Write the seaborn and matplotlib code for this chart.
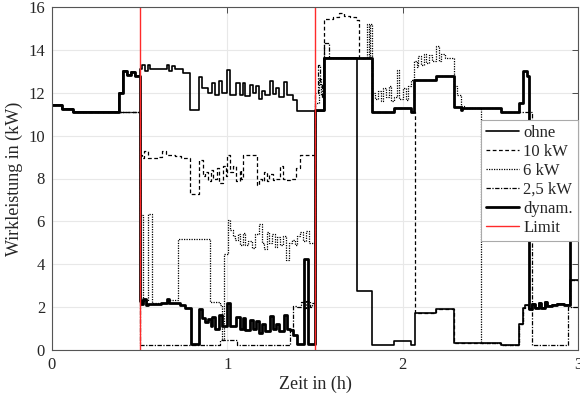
import matplotlib
matplotlib.use("Agg")
import matplotlib.pyplot as plt
import seaborn as sns
import pandas as pd

# ---------------- data (time in h, power in kW, step-post) ----------------
ohne_t = [0, 0.057, 0.12, 0.382, 0.405, 0.43, 0.45, 0.475,
          0.50, 0.515, 0.53, 0.545, 0.56, 0.655, 0.67, 0.685, 0.70, 0.745,
          0.787, 0.84, 0.854, 0.892, 0.915, 0.93, 0.952, 0.968, 1.0, 1.015,
          1.052, 1.072, 1.087, 1.10, 1.128, 1.146, 1.165, 1.178, 1.20, 1.215,
          1.243, 1.258, 1.28, 1.295, 1.324, 1.338, 1.377, 1.396,
          1.553, 1.738, 1.824, 1.95, 2.05, 2.07, 2.19, 2.29, 2.56, 2.665,
          2.685, 2.70, 2.72, 2.74, 2.755, 2.775, 2.79, 2.81, 2.825, 2.85,
          2.88, 2.92, 2.955, 3.0]
ohne_p = [11.45, 11.25, 11.1, 12.0, 13.0, 12.85, 12.95, 12.8,
          13.1, 13.3, 13.0, 13.3, 13.1, 13.3, 13.0, 13.25, 13.1, 12.9,
          11.2, 12.75, 12.2, 12.0, 12.45, 11.9, 12.55, 12.0, 13.05, 11.9,
          12.45, 11.9, 12.45, 11.85, 12.35, 12.0, 12.3, 11.7, 12.1, 11.9,
          12.55, 11.95, 12.2, 11.8, 12.5, 11.9, 11.65, 11.15,
          13.6, 2.75, 0.22, 0.43, 0.22, 1.74, 1.9, 0.33, 0.22, 1.2,
          1.95, 2.1, 1.9, 2.15, 1.95, 2.2, 1.95, 2.25, 2.05, 2.1,
          2.15, 2.1, 3.25, 3.25]

k10_t = [0, 0.057, 0.12,
         0.50, 0.515, 0.525, 0.545, 0.61, 0.63, 0.65, 0.70, 0.735, 0.787,
         0.84, 0.86, 0.875, 0.89, 0.905, 0.92, 0.94, 0.955, 0.975, 0.99,
         1.0, 1.015, 1.035, 1.05, 1.07, 1.08, 1.091, 1.167, 1.18, 1.195,
         1.21, 1.225, 1.24, 1.26, 1.28, 1.30, 1.315, 1.335, 1.36, 1.39, 1.415,
         1.5, 1.553, 1.60, 1.635, 1.664, 1.70, 1.735, 1.75, 1.825, 1.95,
         2.05, 2.07, 2.19, 2.29, 2.56, 2.665, 2.685, 2.70, 2.72, 2.74,
         2.755, 2.775, 2.79, 2.81, 2.825, 2.85, 2.88, 2.92, 2.955, 3.0]
k10_p = [11.45, 11.25, 11.1,
         9.1, 8.95, 9.3, 8.95, 9.0, 9.3, 9.1, 9.05, 8.95, 7.3,
         8.85, 8.1, 8.3, 7.9, 8.4, 8.0, 8.5, 7.8, 8.6, 8.1,
         9.1, 8.3, 8.6, 7.9, 8.4, 8.0, 9.1, 7.7, 8.0, 7.9,
         8.3, 7.9, 8.2, 7.95, 8.0, 8.6, 8.0, 7.95, 8.0, 8.5, 9.1,
         11.2, 15.45, 15.55, 15.7, 15.6, 15.55, 15.4, 13.6, 11.1, 11.3,
         11.1, 1.74, 1.9, 0.33, 0.22, 1.2, 1.95, 2.1, 1.9, 2.15,
         1.95, 2.2, 1.95, 2.25, 2.05, 2.1, 2.15, 2.1, 3.25, 3.25]

k6_t = [0, 0.057, 0.12,
        0.50, 0.52, 0.548, 0.568, 0.66, 0.72, 0.90, 0.957, 0.97, 0.982,
        1.005, 1.015, 1.03, 1.045, 1.06, 1.075, 1.09, 1.10, 1.12, 1.14,
        1.16, 1.18, 1.195, 1.21, 1.225, 1.24, 1.255, 1.27, 1.285, 1.30,
        1.32, 1.335, 1.35, 1.37, 1.385, 1.40, 1.415, 1.43, 1.45, 1.465,
        1.5, 1.52, 1.535, 1.553, 1.797, 1.81, 1.815, 1.825, 1.84, 1.86,
        1.875, 1.89, 1.905, 1.92, 1.935, 1.95, 1.965, 1.98, 2.0, 2.02,
        2.03, 2.045, 2.063, 2.08, 2.09, 2.105, 2.12, 2.135, 2.15, 2.165,
        2.19, 2.205, 2.22, 2.24, 2.29, 2.31, 2.33, 2.35, 2.445, 2.56,
        2.665, 2.685, 2.70, 2.72, 2.74, 2.755, 2.775, 2.79, 2.81, 2.825,
        2.85, 2.88, 2.92, 2.955, 3.0]
k6_p = [11.45, 11.25, 11.1,
        6.3, 2.3, 6.35, 2.2, 2.35, 5.2, 2.25, 2.1, 0.45, 4.5,
        6.05, 5.6, 5.3, 5.15, 5.4, 4.9, 5.45, 4.9, 5.1, 4.75,
        5.4, 5.9, 5.0, 4.7, 5.5, 5.0, 5.4, 4.8, 5.25, 4.9,
        5.3, 4.2, 5.0, 5.15, 4.9, 5.3, 5.5, 5.1, 5.55, 5.0,
        11.5, 12.7, 11.9, 13.6, 15.2, 13.6, 15.2, 12.0, 11.7, 12.1,
        11.6, 12.2, 11.8, 12.3, 11.6, 11.8, 13.05, 11.7, 12.2, 11.65,
        12.3, 12.6, 13.5, 13.2, 13.7, 13.3, 13.8, 13.4, 13.75, 13.5,
        14.2, 13.5, 13.8, 13.6, 12.3, 11.9, 11.4, 11.3, 0.33, 0.22,
        1.2, 1.95, 2.1, 1.9, 2.15, 1.95, 2.2, 1.95, 2.25, 2.05,
        2.1, 2.15, 2.1, 3.25, 3.25]

k25_t = [0, 0.057, 0.12,
         0.50, 0.96, 1.053, 1.36, 1.375, 1.40, 1.42, 1.435, 1.45, 1.47, 1.485,
         1.5, 1.515, 1.53, 1.54, 1.553, 1.58, 1.825, 1.95, 2.05, 2.063,
         2.19, 2.29, 2.33, 2.34, 2.56, 2.736, 2.945, 3.0]
k25_p = [11.45, 11.25, 11.1,
         0.22, 0.45, 0.22, 1.0, 2.05, 2.0, 2.25, 1.95, 2.3, 2.0, 2.2,
         12.0, 13.3, 12.4, 11.8, 14.3, 13.6, 11.1, 11.3, 11.1, 12.6,
         12.8, 11.35, 11.2, 11.3, 11.1, 0.22, 2.0, 2.0]

dyn_t = [0, 0.057, 0.12, 0.382, 0.405, 0.43, 0.45, 0.475,
         0.50, 0.51, 0.52, 0.535, 0.545, 0.62, 0.655, 0.67, 0.73, 0.76,
         0.79, 0.84, 0.855, 0.87, 0.89, 0.905, 0.915, 0.93, 0.952, 0.968,
         1.0, 1.015, 1.05, 1.07, 1.087, 1.10, 1.128, 1.146, 1.165, 1.178,
         1.20, 1.215, 1.243, 1.258, 1.28, 1.295, 1.324, 1.338, 1.36, 1.377,
         1.396, 1.437, 1.46,
         1.5, 1.553, 1.825, 1.95, 2.05, 2.063, 2.19, 2.29, 2.33, 2.34,
         2.56, 2.665, 2.685, 2.71, 2.72, 2.74, 2.755, 2.775, 2.79, 2.81,
         2.825, 2.85, 2.88, 2.92, 2.955, 2.97, 3.0]
dyn_p = [11.45, 11.25, 11.1, 12.0, 13.0, 12.85, 12.95, 12.8,
         2.3, 2.15, 2.4, 2.1, 2.15, 2.2, 2.4, 2.2, 2.1, 1.95,
         0.3, 1.9, 1.5, 1.3, 1.45, 1.1, 1.55, 1.0, 1.65, 1.1,
         2.2, 1.1, 1.55, 1.0, 1.5, 0.95, 1.4, 1.0, 1.35, 0.8,
         1.2, 0.9, 1.6, 1.0, 1.2, 0.9, 1.65, 1.0, 0.95, 0.7,
         0.3, 4.25, 0.3,
         11.2, 13.6, 11.1, 11.3, 11.1, 12.6, 12.8, 11.35, 11.2, 11.3,
         11.1, 11.5, 13.0, 12.8, 1.9, 2.15, 1.95, 2.2, 1.95, 2.25,
         2.05, 2.1, 2.15, 2.1, 5.3, 5.2, 5.2]

limit_times = [0.5, 1.5]
limit_range = [0, 16]

series_names = ["ohne", "10 kW", "6 kW", "2,5 kW", "dynam."]
x_ticks = [0, 1, 2, 3]
y_ticks = [0, 2, 4, 6, 8, 10, 12, 14, 16]

# ---------------- plotting ----------------
sns.set_style("whitegrid")
plt.rcParams["font.family"] = ["Liberation Serif", "DejaVu Serif"]

fig = plt.figure(figsize=(5.8, 4.07), dpi=100)
ax = fig.add_axes([52 / 580, 1 - 350 / 407, 526 / 580, 343 / 407])

data = [(ohne_t, ohne_p), (k10_t, k10_p), (k6_t, k6_p), (k25_t, k25_p), (dyn_t, dyn_p)]
styles = [
    dict(linestyle="-", linewidth=1.2),
    dict(linestyle=(0, (3.0, 2.0)), linewidth=0.9),
    dict(linestyle=(0, (1.0, 1.0)), linewidth=0.9),
    dict(linestyle=(0, (3.5, 1.2, 1.0, 1.2)), linewidth=0.9),
    dict(linestyle="-", linewidth=2.0),
]
for name, (t, p), st in zip(series_names, data, styles):
    assert len(t) == len(p), name
    df = pd.DataFrame({"t": t, "P": p})
    sns.lineplot(data=df, x="t", y="P", ax=ax, estimator=None, sort=False,
                 drawstyle="steps-post", color="black", label=name, **st)

for i, lt in enumerate(limit_times):
    dfl = pd.DataFrame({"t": [lt, lt], "P": limit_range})
    sns.lineplot(data=dfl, x="t", y="P", ax=ax, estimator=None, sort=False,
                 color="#ff2a2a", linewidth=1.0,
                 label="Limit" if i == 0 else None)

ax.set_xlim(0, 3)
ax.set_ylim(0, 16)
ax.set_xticks(x_ticks)
ax.set_yticks(y_ticks)
ax.grid(True, color="#e8e8e8", linewidth=0.8)
for s in ax.spines.values():
    s.set_visible(True)
    s.set_color("#555555")
    s.set_linewidth(0.8)
ax.tick_params(direction="in", length=4, width=0.6, top=True, right=True,
               labelsize=12, colors="#333333", labelcolor="#262626", pad=5)
ax.set_xlabel("Zeit in (h)", fontsize=13, color="#262626", labelpad=2)
ax.set_ylabel("Wirkleistung in (kW)", fontsize=13, color="#262626", labelpad=4)

leg = ax.legend(loc="upper right", bbox_to_anchor=(1.0, 0.672), borderaxespad=0,
                frameon=True, fancybox=False, framealpha=1, edgecolor="#aaaaaa",
                fontsize=12, handlelength=2.0, handletextpad=0.25,
                labelspacing=0.18, borderpad=0.3)
leg.get_frame().set_linewidth(0.8)

fig.savefig("out.png", dpi=100)
